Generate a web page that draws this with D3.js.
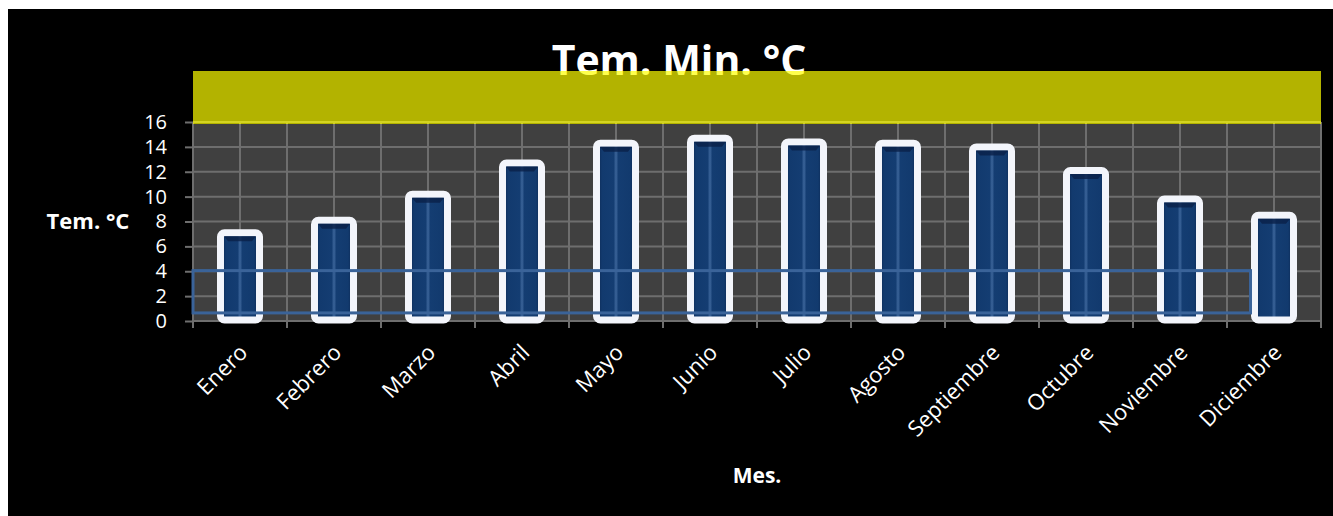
<!DOCTYPE html>
<html>
<head>
<meta charset="utf-8">
<script src="https://cdn.jsdelivr.net/npm/d3@7"></script>
<style>
  body { margin: 0; background: #fff; }
  svg text { font-family: "Open Sans", sans-serif; fill: #fff; }
</style>
</head>
<body>
<svg id="chart" width="1333" height="516"></svg>
<script>
// data
var months = ["Enero", "Febrero", "Marzo", "Abril", "Mayo", "Junio", "Julio",
              "Agosto", "Septiembre", "Octubre", "Noviembre", "Diciembre"];
var tempMin = [7.1, 8.1, 10.2, 12.7, 14.3, 14.7, 14.4, 14.3, 14.0, 12.1, 9.8, 8.5];
var yTicks = [0, 2, 4, 6, 8, 10, 12, 14, 16];

var svg = d3.select("#chart");

var plotLeft = 193, plotRight = 1321, plotTop = 122, plotBottom = 321;

var x = d3.scaleBand()
    .domain(months)
    .range([plotLeft, plotRight]);

var y = d3.scaleLinear()
    .domain([0, 16])
    .range([plotBottom, plotTop]);

var bw = x.bandwidth() * 0.415;

// black frame
svg.append("rect")
    .attr("x", 8).attr("y", 9)
    .attr("width", 1325).attr("height", 507)
    .attr("fill", "#000");

// gradient for the bars
var defs = svg.append("defs");
var grad = defs.append("linearGradient").attr("id", "barGrad");
[[0, "#0a2249"], [0.14, "#123a6e"], [0.44, "#143d72"], [0.5, "#3c659a"],
 [0.56, "#143d72"], [0.86, "#123a6e"], [1, "#0a2249"]].forEach(function(s) {
  grad.append("stop").attr("offset", s[0]).attr("stop-color", s[1]);
});

// plot background
svg.append("rect")
    .attr("x", plotLeft).attr("y", y(16) + 2)
    .attr("width", plotRight - plotLeft).attr("height", plotBottom - y(16) - 2)
    .attr("fill", "#404040");

// left axis (ticks + labels)
var yAxis = svg.append("g")
    .attr("transform", "translate(" + plotLeft + ",0)")
    .call(d3.axisLeft(y).tickValues(yTicks).tickSize(8).tickPadding(18).tickSizeOuter(0));
yAxis.select(".domain").remove();
yAxis.selectAll(".tick line").attr("stroke", "#6e6e6e").attr("stroke-width", 2);
yAxis.selectAll(".tick text")
    .style("font-size", "20px")
    .attr("fill", "#fff");

// horizontal grid
svg.append("g")
  .selectAll("line")
  .data(yTicks)
  .enter().append("line")
    .attr("x1", plotLeft).attr("x2", plotRight)
    .attr("y1", function(d) { return y(d); })
    .attr("y2", function(d) { return y(d); })
    .attr("stroke", "#6e6e6e")
    .attr("stroke-width", 2);

// vertical grid: category edges (with ticks) and centers
var edges = months.map(function(m) { return x(m); }).concat([plotRight]);
var centers = months.map(function(m) { return x(m) + x.bandwidth() / 2; });

svg.append("g")
  .selectAll("line")
  .data(edges)
  .enter().append("line")
    .attr("x1", function(d) { return d; }).attr("x2", function(d) { return d; })
    .attr("y1", y(16)).attr("y2", plotBottom + 7)
    .attr("stroke", "#6e6e6e")
    .attr("stroke-width", 2);

svg.append("g")
  .selectAll("line")
  .data(centers)
  .enter().append("line")
    .attr("x1", function(d) { return d; }).attr("x2", function(d) { return d; })
    .attr("y1", y(16)).attr("y2", plotBottom)
    .attr("stroke", "#6e6e6e")
    .attr("stroke-width", 2);

// bars
var bars = svg.append("g")
  .selectAll("g")
  .data(tempMin)
  .enter().append("g");

bars.append("rect")
    .attr("x", function(d, i) { return x(months[i]) + (x.bandwidth() - bw) / 2; })
    .attr("y", function(d) { return y(d); })
    .attr("width", bw)
    .attr("height", function(d) { return plotBottom - 1 - y(d); })
    .attr("rx", 4)
    .attr("fill", "url(#barGrad)")
    .attr("stroke", "#f3f5fb")
    .attr("stroke-width", 7);

bars.append("path")
    .attr("d", function(d, i) {
      var x0 = x(months[i]) + (x.bandwidth() - bw) / 2 + 3.5;
      var x1 = x0 + bw - 7;
      var y0 = y(d) + 3.5;
      return "M" + x0 + "," + y0 + "H" + x1 + "L" + (x1 - 4) + "," + (y0 + 5) +
             "H" + (x0 + 4) + "Z";
    })
    .attr("fill", "#0a2148")
    .attr("opacity", 0.8);

// blue outline box
svg.append("rect")
    .attr("x", plotLeft)
    .attr("y", y(4.05))
    .attr("width", x("Diciembre") + (x.bandwidth() - bw) / 2 - 4 - plotLeft)
    .attr("height", y(0.65) - y(4.05))
    .attr("fill", "none")
    .attr("stroke", "#3a6399")
    .attr("stroke-width", 3);

// title, then the translucent yellow band over it
svg.append("text")
    .attr("x", 679).attr("y", 75)
    .attr("text-anchor", "middle")
    .style("font-size", "41px")
    .style("font-weight", "bold")
    .text("Tem. Min. °C");

svg.append("rect")
    .attr("x", plotLeft).attr("y", 71)
    .attr("width", plotRight - plotLeft).attr("height", y(16) + 2 - 71)
    .attr("fill", "#ffff00")
    .attr("opacity", 0.7);

// x labels
svg.append("g")
  .selectAll("text")
  .data(months)
  .enter().append("text")
    .attr("transform", function(d) {
      return "translate(" + (x(d) + x.bandwidth() / 2 - 2) + "," + 343 + ") rotate(-45)";
    })
    .attr("text-anchor", "end")
    .attr("dy", "0.7em")
    .style("font-size", "22px")
    .text(function(d) { return d; });

// axis titles
svg.append("text")
    .attr("x", 88).attr("y", 229)
    .attr("text-anchor", "middle")
    .style("font-size", "22px")
    .style("font-weight", "bold")
    .text("Tem. °C");

svg.append("text")
    .attr("x", 757).attr("y", 483)
    .attr("text-anchor", "middle")
    .style("font-size", "21px")
    .style("font-weight", "bold")
    .text("Mes.");
</script>
</body>
</html>
